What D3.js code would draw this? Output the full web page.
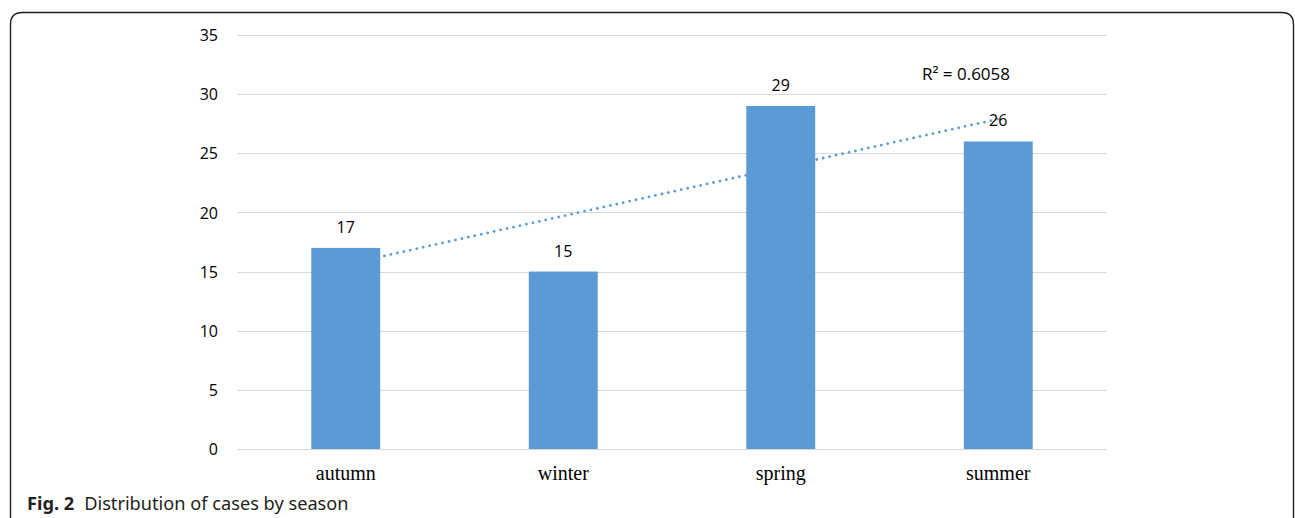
<!DOCTYPE html>
<html>
<head>
<meta charset="utf-8">
<script src="https://cdn.jsdelivr.net/npm/d3@7"></script>
<style>
  html, body { margin: 0; padding: 0; background: #fff; }
  svg { display: block; }
</style>
</head>
<body>
<svg id="chart" width="1295" height="518"></svg>
<script>
// Cases per season
const seasons = ["autumn", "winter", "spring", "summer"];
const cases = [17, 15, 29, 26];
const yTicks = [0, 5, 10, 15, 20, 25, 30, 35];
const captionBold = "Fig. 2";
const captionText = "Distribution of cases by season";

const svg = d3.select("#chart");
const W = 1295, H = 518;

// Figure frame, rounded at the top corners and open at the bottom
const fx0 = 10.5, fy0 = 12.5, fx1 = 1293.5, r = 12;
svg.append("path")
  .attr("d", `M${fx0},${H + 2} L${fx0},${fy0 + r} Q${fx0},${fy0} ${fx0 + r},${fy0} L${fx1 - r},${fy0} Q${fx1},${fy0} ${fx1},${fy0 + r} L${fx1},${H + 2}`)
  .attr("fill", "none")
  .attr("stroke", "#231f20")
  .attr("stroke-width", 1.4);

const plot = { left: 237, right: 1107, top: 35, bottom: 449 };

const x = d3.scaleBand()
  .domain(seasons)
  .range([plot.left, plot.right])
  .paddingInner(0.683)
  .paddingOuter(0.3415);

const y = d3.scaleLinear()
  .domain([0, 35])
  .range([plot.bottom, plot.top]);

// Horizontal gridlines
svg.append("g")
  .selectAll("line")
  .data(yTicks)
  .join("line")
  .attr("x1", plot.left)
  .attr("x2", plot.right)
  .attr("y1", d => Math.round(y(d)) + 0.5)
  .attr("y2", d => Math.round(y(d)) + 0.5)
  .attr("stroke", "#d9d9d9")
  .attr("stroke-width", 1);

// Y axis labels
const yAxis = d3.axisLeft(y).tickValues(yTicks).tickSize(0).tickPadding(0);
const gy = svg.append("g")
  .attr("transform", `translate(${plot.left - 19},0)`)
  .call(yAxis);
gy.select(".domain").remove();
gy.selectAll("text")
  .attr("font-family", "'Open Sans', 'Noto Sans', sans-serif")
  .attr("font-size", 16)
  .attr("fill", "#000")
  .attr("dy", "0.35em");

// Linear trendline (least squares over category index 1..n)
const n = cases.length;
const xs = cases.map((_, i) => i + 1);
const mx = d3.mean(xs), my = d3.mean(cases);
const sxy = d3.sum(xs, (xi, i) => (xi - mx) * (cases[i] - my));
const sxx = d3.sum(xs, xi => (xi - mx) ** 2);
const syy = d3.sum(cases, yi => (yi - my) ** 2);
const slope = sxy / sxx;
const intercept = my - slope * mx;
const r2 = (sxy * sxy) / (sxx * syy);

const cx = s => x(s) + x.bandwidth() / 2;
svg.append("line")
  .attr("x1", cx(seasons[0]))
  .attr("y1", y(intercept + slope * 1))
  .attr("x2", cx(seasons[n - 1]))
  .attr("y2", y(intercept + slope * n))
  .attr("stroke", "#5b9bd5")
  .attr("stroke-width", 2.8)
  .attr("stroke-linecap", "round")
  .attr("stroke-dasharray", "0.01 6.6");

// Bars
svg.append("g")
  .selectAll("rect")
  .data(cases)
  .join("rect")
  .attr("x", (d, i) => x(seasons[i]))
  .attr("y", d => y(d))
  .attr("width", x.bandwidth())
  .attr("height", d => y(0) - y(d))
  .attr("fill", "#5b9bd5");

// Value labels
svg.append("g")
  .selectAll("text")
  .data(cases)
  .join("text")
  .attr("x", (d, i) => cx(seasons[i]))
  .attr("y", d => y(d) - 15)
  .attr("text-anchor", "middle")
  .attr("font-family", "'Open Sans', 'Noto Sans', sans-serif")
  .attr("font-size", 16)
  .attr("fill", "#000")
  .text(d => d);

// R² annotation
svg.append("text")
  .attr("x", 922)
  .attr("y", 80)
  .attr("font-family", "'Open Sans', 'Noto Sans', sans-serif")
  .attr("font-size", 17)
  .attr("fill", "#000")
  .text(`R² = ${r2.toFixed(4)}`);

// Category labels
const xAxis = d3.axisBottom(x).tickSize(0).tickPadding(0);
const gx = svg.append("g")
  .attr("transform", `translate(0,${plot.bottom + 31})`)
  .call(xAxis);
gx.select(".domain").remove();
gx.selectAll("text")
  .attr("font-family", "'Liberation Serif', 'Times New Roman', serif")
  .attr("font-size", 20)
  .attr("fill", "#000")
  .attr("dy", 0);

// Caption
const cap = svg.append("text")
  .attr("x", 27)
  .attr("y", 510)
  .attr("font-family", "'Noto Sans', 'Open Sans', sans-serif")
  .attr("font-size", 18.2)
  .attr("fill", "#231f20");
cap.append("tspan").attr("font-weight", "bold").text(captionBold);
cap.append("tspan").attr("dx", 10).text(captionText);
</script>
</body>
</html>
